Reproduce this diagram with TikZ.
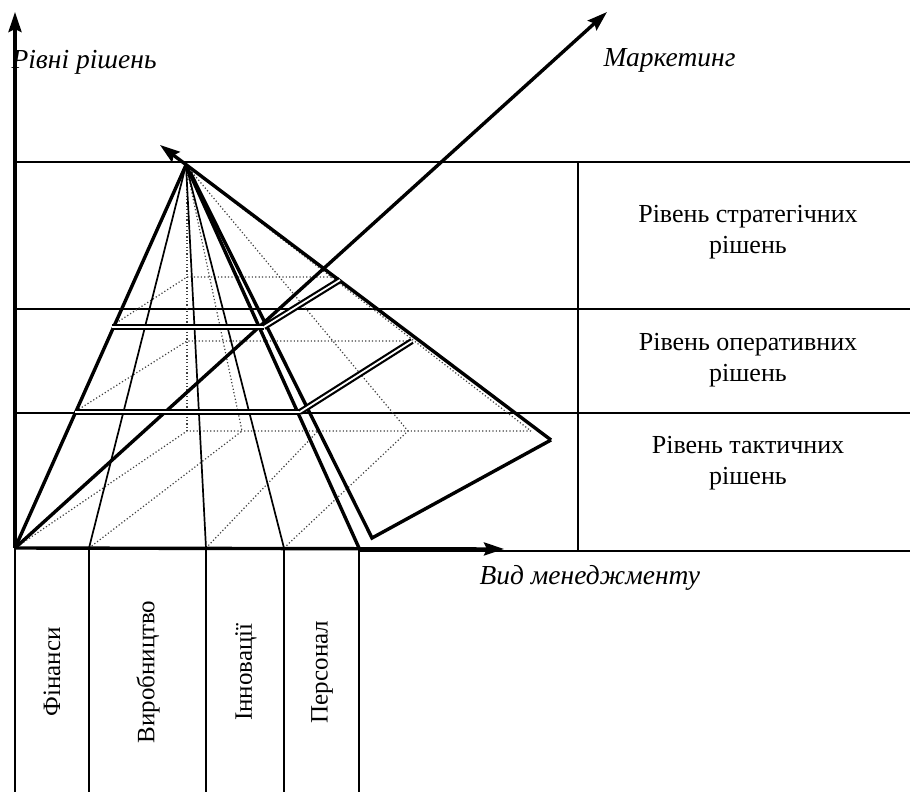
\documentclass[tikz,border=0pt]{standalone}
\usepackage{fontspec}
\setmainfont{Liberation Serif}
\usetikzlibrary{arrows.meta}
\begin{document}
\begin{tikzpicture}[x=1pt,y=-1pt,
  thk/.style={line width=3.4pt},
  thn/.style={line width=1.7pt},
  tbl/.style={line width=2pt},
  hid/.style={line width=1.2pt, dash pattern=on 1.2pt off 2.2pt, black!75},
  dbl/.style={line width=2.2pt, double, double distance=1.8pt},
  arr/.style={-{Stealth[length=20pt,width=13pt,inset=3pt]}},
  lbl/.style={font=\fontsize{26}{31}\selectfont, align=center},
  ilbl/.style={font=\fontsize{27.5}{30}\selectfont\itshape},
  vlbl/.style={font=\fontsize{25}{30}\selectfont, rotate=90}]
\useasboundingbox (0,0) rectangle (910,792);
\fill[white] (0,0) rectangle (910,792);
% key points
\coordinate (O) at (15,548);
\coordinate (Ytop) at (15,12);
\coordinate (Xend) at (504,549);
\coordinate (Mend) at (607,12);
\coordinate (A) at (186,165);
\coordinate (A2) at (190,172);
\coordinate (F1) at (89,548);
\coordinate (F2) at (206,548);
\coordinate (F3) at (284,548);
\coordinate (FR) at (359,548);
\coordinate (R1) at (372,538);
\coordinate (R2) at (551,440);
\coordinate (Rtip) at (160,145);
\coordinate (BL) at (187,431);
\coordinate (B1) at (242,431);
\coordinate (B2) at (318,431);
\coordinate (B3) at (408,431);
\coordinate (BR) at (531,431);
% table
\coordinate (T1L) at (15,162); \coordinate (T1R) at (910,162);
\coordinate (T2L) at (15,309); \coordinate (T2R) at (910,309);
\coordinate (T3L) at (15,413); \coordinate (T3R) at (910,413);
\coordinate (T4L) at (359,551); \coordinate (T4R) at (910,551);
\coordinate (VT) at (578,162); \coordinate (VB) at (578,551);
\draw[tbl] (T1L) -- (T1R);
\draw[tbl] (T2L) -- (T2R);
\draw[tbl] (T3L) -- (T3R);
\draw[tbl] (T4L) -- (T4R);
\draw[tbl] (VT) -- (VB);
% bottom columns
\foreach \x/\n in {15/c0,89/c1,206/c2,284/c3,359/c4}{
  \coordinate (\n t) at (\x,548); \coordinate (\n b) at (\x,792);
  \draw[tbl] (\n t) -- (\n b);}
% hidden lines
\coordinate (AV) at (187,165);
\coordinate (L2a) at (113,325); \coordinate (L2b) at (187,277); \coordinate (L2c) at (335,277);
\coordinate (L1a) at (76,411); \coordinate (L1b) at (187,341); \coordinate (L1c) at (408,341);
\draw[hid] (AV) -- (BL);
\draw[hid] (O) -- (BL) -- (BR);
\draw[hid] (L2a) -- (L2b) -- (L2c);
\draw[hid] (L1a) -- (L1b) -- (L1c);
\draw[hid] (F1) -- (B1) -- (A);
\draw[hid] (F2) -- (B2) -- (A);
\draw[hid] (F3) -- (B3) -- (A);
\draw[hid] (A) -- (BR);
% axes
\draw[thk,arr] (O) -- (Ytop);
\draw[thk,arr] (O) -- (Xend);
\draw[thk,arr] (O) -- (Mend);
% pyramid
\draw[thk] (A) -- (O);
\draw[thn] (A) -- (F1);
\draw[thn] (A) -- (F2);
\draw[thn] (A) -- (F3);
\draw[thk] (A) -- (FR);
\draw[thk] (A2) -- (R1) -- (R2);
\draw[thk,arr] (R2) -- (Rtip);
% level slices
\coordinate (S1a) at (112,327); \coordinate (S1b) at (264,327); \coordinate (S1c) at (340,280);
\coordinate (S2a) at (75,412); \coordinate (S2b) at (300,412); \coordinate (S2c) at (412,341);
\draw[dbl] (S1a) -- (S1b);
\draw[dbl] (S2a) -- (S2b);
\draw[dbl] (S1b) -- (S1c);
\draw[dbl] (S2b) -- (S2c);
% labels
\node[ilbl, anchor=west] (ly) at (8,62) {Рівні рішень};
\node[ilbl, anchor=west] (lm) at (600,60) {Маркетинг};
\node[ilbl, anchor=west] (lx) at (476,578) {Вид менеджменту};
\node[lbl] (s1) at (748,232) {Рівень стратегічних\\рішень};
\node[lbl] (s2) at (748,360) {Рівень оперативних\\рішень};
\node[lbl] (s3) at (748,463) {Рівень тактичних\\рішень};
\node[vlbl] (v1) at (52,672) {Фінанси};
\node[vlbl] (v2) at (148,672) {Виробництво};
\node[vlbl] (v3) at (246,672) {Інновації};
\node[vlbl] (v4) at (322,672) {Персонал};
\end{tikzpicture}
\end{document}
